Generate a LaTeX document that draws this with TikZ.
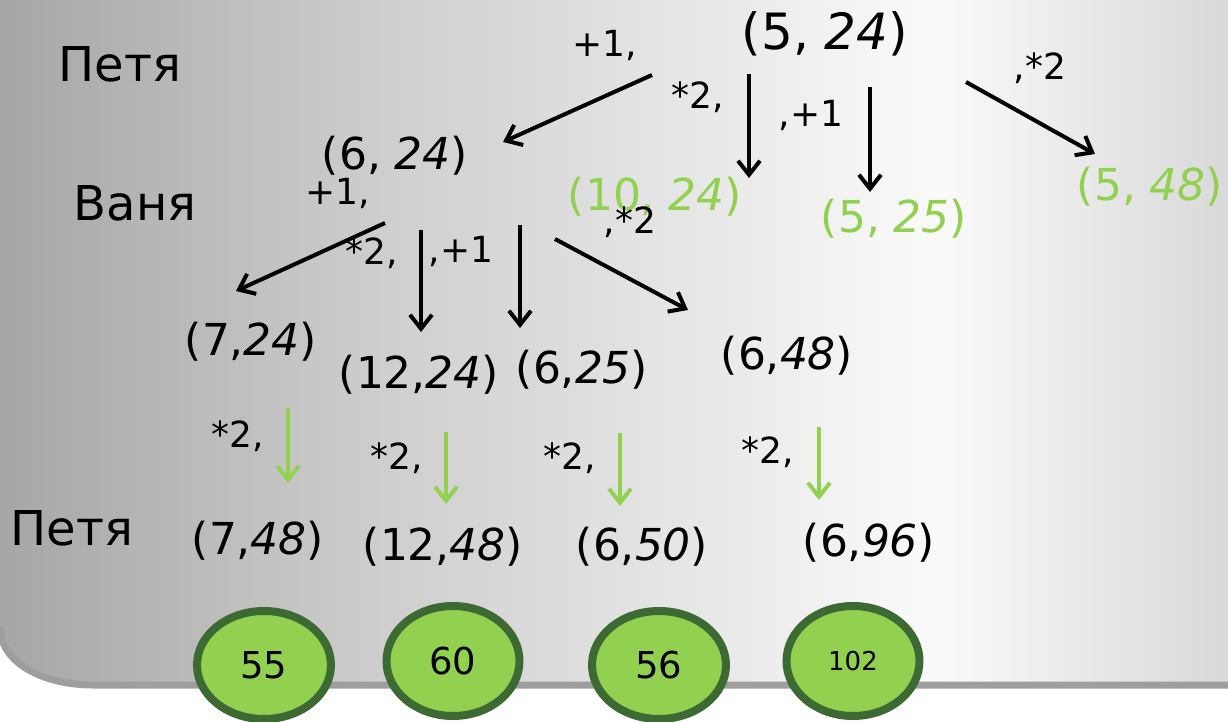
\documentclass[tikz,border=0pt]{standalone}
\usepackage{fontspec}
\setmainfont{DejaVu Sans}
\usetikzlibrary{arrows.meta,shapes.geometric}
\definecolor{lgreen}{HTML}{92D050}
\definecolor{dgreen}{HTML}{3D6932}
\definecolor{bgA}{HTML}{A6A6A6}
\definecolor{bgB}{HTML}{CFCFCF}
\definecolor{bgC}{HTML}{FAFAFA}
\definecolor{bgD}{HTML}{D9D9D9}
\definecolor{bgedge}{HTML}{9E9E9E}
\pgfdeclarehorizontalshading{bgshade}{100bp}{color(0bp)=(bgA); color(25bp)=(bgA); color(41bp)=(bgB); color(63bp)=(bgC); color(75bp)=(bgD); color(100bp)=(bgD)}
\begin{document}
\begin{tikzpicture}[x=0.5pt,y=-0.5pt,
	pair/.style={inner sep=0pt,font=\fontsize{22}{26}\selectfont},
	win/.style={pair,text=lgreen},
	who/.style={inner sep=0pt,font=\fontsize{24}{28}\selectfont},
	move/.style={inner sep=0pt,font=\fontsize{18}{22}\selectfont},
	arr/.style={-{Straight Barb[length=7pt,width=11pt]},line width=2pt},
	garr/.style={arr,lgreen},
	res/.style={ellipse,draw=dgreen,fill=lgreen,line width=4pt,inner sep=0pt,minimum width=67pt,minimum height=54pt,font=\fontsize{18.5}{21}\selectfont}]
	\useasboundingbox (0,0) rectangle (1228,722);
	\shade[shading=bgshade] (0,0) -- (0,627) .. controls (0,662) and (42,685) .. (93,685) -- (1228,685) -- (1228,0) -- cycle;
	\draw[bgedge,line width=3.5pt] (0,627) .. controls (0,662) and (42,685) .. (93,685) -- (1228,685);
	
	\node[who] (pet1) at (120,64) {Петя};
	\node[who] (van) at (135,203) {Ваня};
	\node[who] (pet2) at (72,528) {Петя};
	
	\node[pair,font=\fontsize{25}{29}\selectfont] (p0) at (825,34) {(5, \textit{24})};
	\node[pair] (v0) at (395,156) {(6, \textit{24})};
	\node[win] (w1) at (655,197) {(10, \textit{24})};
	\node[win] (w2) at (894,219) {(5, \textit{25})};
	\node[win] (w3) at (1150,187) {(5, \textit{48})};
	
	\node[pair] (s1) at (251,342) {(7,\textit{24})};
	\node[pair] (s2) at (419,375) {(12,\textit{24})};
	\node[pair] (s3) at (582,370) {(6,\textit{25})};
	\node[pair] (s4) at (787,356) {(6,\textit{48})};
	
	\node[pair] (t1) at (258,541) {(7,\textit{48})};
	\node[pair] (t2) at (443,547) {(12,\textit{48})};
	\node[pair] (t3) at (642,547) {(6,\textit{50})};
	\node[pair] (t4) at (869,543) {(6,\textit{96})};
	
	\node[move] (m1) at (605,45) {+1,};
	\node[move] (m2) at (698,97) {*2,};
	\node[move] (m3) at (811,115) {,+1};
	\node[move] (m4) at (1040,68) {,*2};
	\node[move] (k1) at (338,193) {+1,};
	\node[move] (k2) at (372,253) {*2,};
	\node[move] (k3) at (461,251) {,+1};
	\node[move] (k4) at (630,222) {,*2};
	\node[move] (e1) at (238,436) {*2,};
	\node[move] (e2) at (397,458) {*2,};
	\node[move] (e3) at (570,458) {*2,};
	\node[move] (e4) at (768,452) {*2,};
	
	\coordinate (a1) at (652,75); \coordinate (a1e) at (503,142);
	\coordinate (a2) at (749,74); \coordinate (a2e) at (749,178);
	\coordinate (a3) at (870,87); \coordinate (a3e) at (870,192);
	\coordinate (a4) at (966,82); \coordinate (a4e) at (1095,154);
	\coordinate (b1) at (385,223); \coordinate (b1e) at (236,291);
	\coordinate (b2) at (421,230); \coordinate (b2e) at (421,332);
	\coordinate (b3) at (520,225); \coordinate (b3e) at (520,328);
	\coordinate (b4) at (555,239); \coordinate (b4e) at (688,310);
	\draw[arr] (a1) -- (a1e);
	\draw[arr] (a2) -- (a2e);
	\draw[arr] (a3) -- (a3e);
	\draw[arr] (a4) -- (a4e);
	\draw[arr] (b1) -- (b1e);
	\draw[arr] (b2) -- (b2e);
	\draw[arr] (b3) -- (b3e);
	\draw[arr] (b4) -- (b4e);
	
	\coordinate (c1) at (288,408); \coordinate (c1e) at (288,483);
	\coordinate (c2) at (446,432); \coordinate (c2e) at (446,504);
	\coordinate (c3) at (620,433); \coordinate (c3e) at (620,506);
	\coordinate (c4) at (819,427); \coordinate (c4e) at (819,500);
	\draw[garr] (c1) -- (c1e);
	\draw[garr] (c2) -- (c2e);
	\draw[garr] (c3) -- (c3e);
	\draw[garr] (c4) -- (c4e);
	
	\node[res] (r1) at (264,665) {55};
	\node[res,minimum width=66.5pt,minimum height=55pt] (r2) at (453,661) {60};
	\node[res] (r3) at (659,665) {56};
	\node[res,minimum width=66.5pt,minimum height=55pt,font=\fontsize{13}{15}\selectfont] (r4) at (853,661) {102};
\end{tikzpicture}
\end{document}
